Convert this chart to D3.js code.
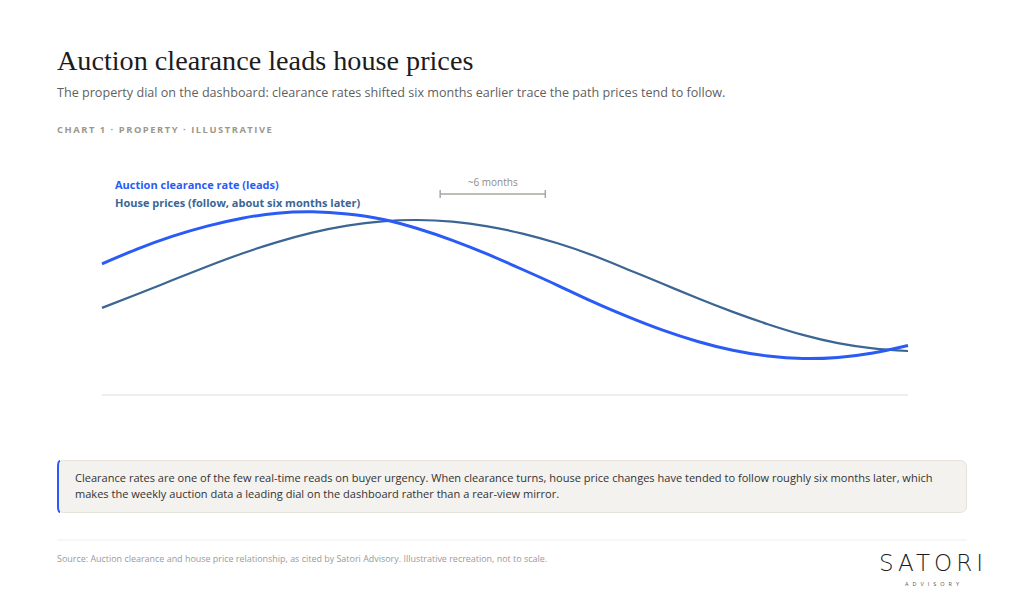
<!DOCTYPE html>
<html>
<head>
<meta charset="utf-8">
<script src="https://cdn.jsdelivr.net/npm/d3@7"></script>
<style>
  html, body { margin: 0; padding: 0; background: #ffffff; }
  svg { display: block; }
</style>
</head>
<body>
<svg id="chart" width="1024" height="599"></svg>
<script>
// ---- Data (illustrative index values) ----
const months = [0, 2, 4, 6, 8, 10, 12, 14, 16, 18, 20, 22, 24, 26, 28, 30, 32, 34, 36, 38, 40, 42, 44, 46];
const clearance = [65.6, 72.95, 79.3, 84.45, 88.4, 90.9, 91.6, 90.55, 87.9, 83.25, 77.35, 70.4, 62.75, 54.85, 46.65, 39.15, 32.4, 26.75, 22.35, 19.5, 18.25, 18.8, 21, 24.75];
const prices = [43.55, 50.35, 57.35, 64.25, 70.75, 76.45, 81.2, 84.7, 86.85, 87.5, 86.65, 84.35, 80.7, 75.85, 69.85, 62.8, 55.6, 48.35, 41.55, 35.4, 30.05, 25.95, 23.35, 22];
const seriesNames = ["Auction clearance rate (leads)", "House prices (follow, about six months later)"];
const lagMonths = [19.3, 25.3]; // span of the "~6 months" bracket
const lagLabel = "~6 months";

const title = "Auction clearance leads house prices";
const subtitle = "The property dial on the dashboard: clearance rates shifted six months earlier trace the path prices tend to follow.";
const kicker = "CHART 1 · PROPERTY · ILLUSTRATIVE";
const note1 = "Clearance rates are one of the few real-time reads on buyer urgency. When clearance turns, house price changes have tended to follow roughly six months later, which";
const note2 = "makes the weekly auction data a leading dial on the dashboard rather than a rear-view mirror.";
const source = "Source: Auction clearance and house price relationship, as cited by Satori Advisory. Illustrative recreation, not to scale.";

const blue = "#2a5bf5";
const steel = "#3b6594";
const sans = "'Open Sans', 'Noto Sans', sans-serif";

const svg = d3.select("#chart");

// Header
svg.append("text").attr("x", 57).attr("y", 70)
  .attr("font-family", "'Liberation Serif', 'DejaVu Serif', serif")
  .attr("font-size", 28.2).attr("fill", "#1c1c1c").text(title);
svg.append("text").attr("x", 57).attr("y", 97)
  .attr("font-family", sans).attr("font-size", 12.6).attr("fill", "#5f5f5f").text(subtitle);
svg.append("text").attr("x", 57).attr("y", 133)
  .attr("font-family", sans).attr("font-size", 9.4).attr("font-weight", 700)
  .attr("letter-spacing", 1.52).attr("fill", "#9c988c").text(kicker);

// Scales
const x = d3.scaleLinear().domain([0, 46]).range([102, 908]);
const y = d3.scaleLinear().domain([0, 100]).range([395, 195]);

// Baseline
svg.append("line").attr("x1", x(0)).attr("x2", x(46)).attr("y1", y(0)).attr("y2", y(0))
  .attr("stroke", "#ebe9e3").attr("stroke-width", 1.5);

const line = d3.line().x((d, i) => x(months[i])).y(d => y(d)).curve(d3.curveNatural);

svg.append("path").datum(prices).attr("d", line)
  .attr("fill", "none").attr("stroke", steel).attr("stroke-width", 2.2);
svg.append("path").datum(clearance).attr("d", line)
  .attr("fill", "none").attr("stroke", blue).attr("stroke-width", 3);

// Legend
svg.append("text").attr("x", 115).attr("y", 189)
  .attr("font-family", sans).attr("font-size", 11).attr("font-weight", 700)
  .attr("fill", blue).text(seriesNames[0]);
svg.append("text").attr("x", 115).attr("y", 207)
  .attr("font-family", sans).attr("font-size", 11).attr("font-weight", 700)
  .attr("fill", steel).text(seriesNames[1]);

// Lag bracket
const bx1 = x(lagMonths[0]), bx2 = x(lagMonths[1]), by = 194;
const bracket = svg.append("g").attr("stroke", "#a9a79f").attr("stroke-width", 1.5);
bracket.append("line").attr("x1", bx1).attr("x2", bx2).attr("y1", by).attr("y2", by);
bracket.append("line").attr("x1", bx1).attr("x2", bx1).attr("y1", by - 4).attr("y2", by + 4);
bracket.append("line").attr("x1", bx2).attr("x2", bx2).attr("y1", by - 4).attr("y2", by + 4);
svg.append("text").attr("x", (bx1 + bx2) / 2).attr("y", 186).attr("text-anchor", "middle")
  .attr("font-family", sans).attr("font-size", 10).attr("fill", "#8e8c86").text(lagLabel);

// Callout
svg.append("rect").attr("x", 57.5).attr("y", 460.5).attr("width", 909).attr("height", 52).attr("rx", 6)
  .attr("fill", "#f3f2ee").attr("stroke", "#e4e2db");
svg.append("path").attr("d", "M 60 461 Q 58 461 58 467 L 58 506 Q 58 512 60 512")
  .attr("fill", "none").attr("stroke", blue).attr("stroke-width", 2);
svg.append("text").attr("x", 75).attr("y", 482)
  .attr("font-family", sans).attr("font-size", 11.05).attr("fill", "#333333").text(note1);
svg.append("text").attr("x", 75).attr("y", 498)
  .attr("font-family", sans).attr("font-size", 11.05).attr("fill", "#333333").text(note2);

// Footer
svg.append("line").attr("x1", 57).attr("x2", 967).attr("y1", 540).attr("y2", 540)
  .attr("stroke", "#efeee9").attr("stroke-width", 1);
svg.append("text").attr("x", 57).attr("y", 562)
  .attr("font-family", sans).attr("font-size", 8.95).attr("fill", "#9a9a9a").text(source);

svg.append("text").attr("x", 933).attr("y", 571).attr("text-anchor", "middle")
  .attr("font-family", "'DejaVu Sans', sans-serif").attr("font-weight", 300).attr("font-size", 23)
  .attr("letter-spacing", 4).attr("fill", "#1c1c1c").text("SATORI");
svg.append("text").attr("x", 934).attr("y", 586).attr("text-anchor", "middle")
  .attr("font-family", sans).attr("font-size", 5.5).attr("letter-spacing", 4)
  .attr("fill", "#555555").text("ADVISORY");
</script>
</body>
</html>
